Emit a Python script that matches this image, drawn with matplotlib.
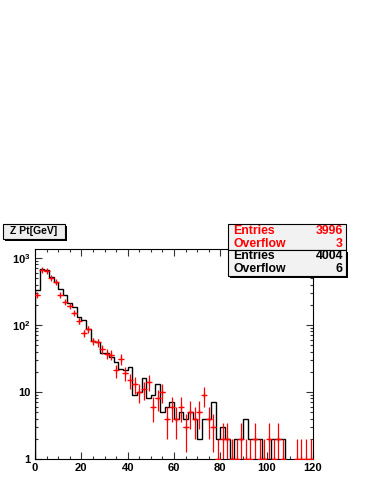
import numpy as np
import matplotlib
matplotlib.use("Agg")
import matplotlib.pyplot as plt
from matplotlib.patches import Rectangle
from matplotlib.ticker import FixedLocator, MultipleLocator, NullFormatter

plt.rcParams['font.family'] = ['Liberation Sans', 'DejaVu Sans']
plt.rcParams['font.weight'] = 'bold'
plt.rcParams['mathtext.fontset'] = 'custom'
plt.rcParams['mathtext.rm'] = 'Liberation Sans:bold'
plt.rcParams['mathtext.bf'] = 'Liberation Sans:bold'

# Z pt histograms, 2 GeV bins from 0 to 120
edges = np.arange(0, 122, 2)

black_counts = [330, 690, 670, 520, 440, 350, 280, 210, 185, 130,
                120, 88, 57, 55, 38, 38, 33, 28, 22, 21,
                24, 9, 10, 16, 8, 9, 13, 5, 6, 7,
                4, 5, 4, 5, 4, 2, 4, 4, 7, 2,
                3, 2, 1, 2, 2, 4, 2, 2, 2, 1,
                1, 2, 2, 2, 0, 0, 0, 0, 0, 0]

red_counts = [280, 660, 650, 505, 435, 280, 220, 192, 152, 115,
              75, 86, 57, 55, 44, 37, 36, 21, 31, 19,
              15, 13, 10, 11, 14, 6, 8, 10, 4, 6,
              4, 6, 3, 5, 4, 5, 9, 4, 3, 1,
              2, 2, 1, 1, 2, 1, 1, 2, 1, 1,
              2, 1, 2, 1, 0, 0, 1, 1, 1, 1]

red_stats = [("Entries", "3996"), ("Overflow", "3")]
black_stats = [("Entries", "4004"), ("Overflow", "6")]
title = "Z Pt[GeV]"

W, H = 374, 484
fig = plt.figure(figsize=(W / 100, H / 100), dpi=100)
fig.patch.set_facecolor("white")


def fx(px):
    return px / W


def fy(py):
    return 1 - py / H


ax = fig.add_axes([fx(35), fy(459), fx(313) - fx(35), fy(249) - fy(459)])

# black histogram outline (zeros dropped below the frame)
bc = np.array(black_counts, dtype=float)
bc_plot = np.where(bc > 0, bc, 0.1)
ax.stairs(bc_plot, edges, color="black", lw=1.0, baseline=None, zorder=2)
ax.plot([edges[0], edges[0]], [0.1, bc_plot[0]], color="black", lw=1.0, zorder=2)

# red points with sqrt(N) errors
rc = np.array(red_counts, dtype=float)
centers = 0.5 * (edges[:-1] + edges[1:])
m = rc > 0
err = np.sqrt(rc[m])
low = np.minimum(err, rc[m] - 0.05)
ax.errorbar(centers[m], rc[m], yerr=[low, err], xerr=1.0, fmt="+", color="red",
            ms=4, mew=0.9, elinewidth=0.9, capsize=0, zorder=3)

ax.set_yscale("log")
ax.set_xlim(0, 120)
ax.set_ylim(1, 1362)

ax.xaxis.set_major_locator(MultipleLocator(20))
ax.xaxis.set_minor_locator(MultipleLocator(5))
ax.yaxis.set_major_locator(FixedLocator([1, 10, 100, 1000]))
ax.set_yticklabels(["1", "10", r"$10^{2}$", r"$10^{3}$"])
ax.yaxis.set_minor_formatter(NullFormatter())
ax.tick_params(which="both", direction="in", top=True, right=True,
               labelsize=8, width=0.8, color="#333333")
ax.tick_params(which="major", length=5, pad=3)
ax.tick_params(which="minor", length=2.5)
for lab in ax.get_xticklabels() + ax.get_yticklabels():
    lab.set_fontweight("bold")
for s in ax.spines.values():
    s.set_linewidth(0.8)


def box(x0, y0, x1, y1, fill, shadow=False):
    if shadow:
        fig.patches.append(Rectangle((fx(x0 + 2), fy(y1 + 2)), fx(x1) - fx(x0), fy(y0) - fy(y1),
                                     transform=fig.transFigure, facecolor="black",
                                     edgecolor="none", zorder=5))
    fig.patches.append(Rectangle((fx(x0), fy(y1)), fx(x1) - fx(x0), fy(y0) - fy(y1),
                                 transform=fig.transFigure, facecolor=fill,
                                 edgecolor="black", lw=0.8, zorder=6))


# title box
box(3, 224, 65, 239, "#eeeeee", shadow=True)
fig.text(fx(34), fy(231.5), title, ha="center", va="center", fontsize=7.5,
         fontweight="bold", zorder=7)

# stats boxes
box(228, 224, 346, 250, "#f2f2f2")
box(228, 250, 346, 276, "#f2f2f2", shadow=True)
rows = [(red_stats, "red", 231), (black_stats, "black", 256)]
for stats, col, y0 in rows:
    for i, (name, val) in enumerate(stats):
        yy = y0 + i * 13
        fig.text(fx(233), fy(yy), name, color=col, ha="left", va="center",
                 fontsize=8.8, fontweight="bold", zorder=7)
        fig.text(fx(343), fy(yy), val, color=col, ha="right", va="center",
                 fontsize=8.8, fontweight="bold", zorder=7)

fig.savefig("out.png", dpi=100)
